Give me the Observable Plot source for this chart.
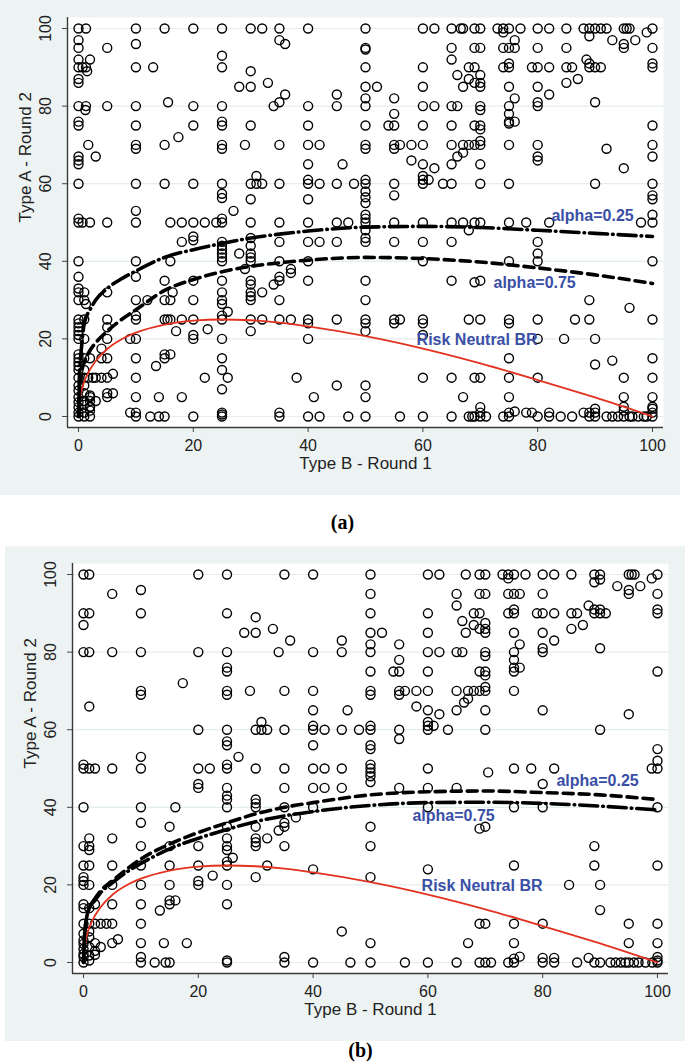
<!DOCTYPE html>
<html>
<head>
<meta charset="utf-8">
<script src="https://cdn.jsdelivr.net/npm/d3@7"></script>
<script src="https://cdn.jsdelivr.net/npm/@observablehq/plot@0.6"></script>
<style>
  body { margin: 0; background: #ffffff; }
  #root { position: relative; width: 685px; height: 1064px; background: #ffffff; overflow: hidden; }
  .panel { position: absolute; }
  .cap { position: absolute; width: 685px; text-align: center; font-family: "Liberation Serif", "Times New Roman", serif; font-weight: bold; font-size: 20px; line-height: 24px; color: #000; }
</style>
</head>
<body>
<div id="root">
  <div id="pa" class="panel" style="left:0px;top:0px"></div>
  <div class="cap" style="left:0px;top:510px">(a)</div>
  <div id="pb" class="panel" style="left:5px;top:546px"></div>
  <div class="cap" style="left:18px;top:1038px">(b)</div>
</div>
<script>
// ---------- data ----------
const axisTicks = [0, 20, 40, 60, 80, 100];
const xTitle = "Type B - Round 1";
const yTitle = "Type A - Round 2";

// best-response curves
const curveX        = [0, 0.1, 0.3, 0.6, 1, 2, 3, 5, 7.5, 10, 15, 20, 25, 30, 35, 40, 50, 60, 70, 80, 90, 100];
const riskNeutralY  = [0, 3.1, 5.2, 7.1, 9, 12.1, 14.3, 17.4, 19.9, 21.6, 23.7, 24.7, 25, 24.8, 24.2, 23.2, 20.7, 17.5, 13.7, 9.4, 4.9, 0];
const a_alpha25Y    = [0, 8, 14, 19, 24, 27.5, 30, 33, 35.5, 37.5, 41, 43, 44.6, 46, 47, 47.8, 48.8, 49, 48.7, 48, 47.2, 46.4];
const a_alpha75Y    = [0, 5, 9, 12, 14, 17, 19, 22, 25, 27.5, 32.5, 35.3, 37.3, 38.7, 39.6, 40.3, 41, 40.7, 39.8, 38.3, 36.5, 34.3];
const b_alpha25Y    = [0, 5, 9, 12, 14, 16.5, 18.5, 21, 24, 26.7, 30.5, 33.5, 36, 38.3, 40, 41.2, 43.2, 44, 44.2, 43.8, 43.2, 42];
const b_alpha75Y    = [0, 5, 9, 12, 14, 16, 18, 20.5, 23.3, 25.5, 29.3, 32, 34.3, 36.3, 37.8, 38.9, 40.5, 41.2, 41.3, 41, 40.3, 39.3];

// annotation labels [text, x, y]
const a_labels = [["alpha=0.25", 82.4, 51.8], ["alpha=0.75", 72.3, 34.5], ["Risk Neutral BR", 58.9, 19.8]];
const b_labels = [["alpha=0.25", 82.4, 46.9], ["alpha=0.75", 57.3, 37.9], ["Risk Neutral BR", 58.9, 19.8]];

// panel (a) observations [Type B round 1, Type A round 2]
const a_points = [
  [0,100],[1.3,100],[10,100],[15,100],[20,100],[25,100],[30,100],[32,100],[35,100],[40,100],
  [35,97],[36,96],[0,97],[0,95],[5,95],[10,96],[25,93],[2,92],[0,92],
  [0,90],[0.7,90],[1.3,90],[10,90],[13,90],[25,90],[1.5,89],[30,89],[0,87],[0,86],[33,86],[28,85],[30,85],[36,83],[45,83],
  [15.6,81],[35,81],[34,80],[0,80],[1.3,80],[5,80],[10,80],[20,80],[25,80],[40,80],[45,80],[1.2,79],
  [0,76],[25,76],[0,75],[10,75],[20,75],[25,75],[30,75],[40,75],[17.4,72],
  [1.7,70],[10,70],[15,70],[25,70],[29,70],[35,70],[40,70],[42,70],[10,69],[25,69],
  [0,67],[3,67],[0,66],[0,65],[40,65],[46,65],[31,62],
  [0,60],[10,60],[15,60],[20,60],[25,60],[30,60],[31,60],[32,60],[35,60],[40,60],[42,60],[45,60],[48,60],[40,61],
  [25,57.4],[25,56.3],[30,56],[40,56],[10,53],[27,53],[0,51],[25,51],
  [0,50],[0.7,50],[2,50],[5,50],[10,50],[16,50],[18,50],[20,50],[22,50],[24,50],[25,50],[30,50],[35,50],[40,50],[45,50],[47,50],
  [20,46.4],[20,45.4],[18,45],[25,45],[25,44],[25,43],[25,42],[25,41],[25,40],[28,42],
  [30,46],[30,44],[30,42],[30,41],[30,40],[35,45],[40,45],[42,45],[45,45],
  [0,40],[10,40],[16,40],[35,40],[40,40],[29,38],[37,38],[37,37],[35,36],[35,35],[34,34],
  [0,36],[10,36],[15,35],[20,35],[25,35],[30,35],[30,34],[40,35],
  [0,33],[1,32],[0,32],[5,32],[16.4,32],[25,32],[30,32],[32,32],[30,31],
  [0,30],[1,30],[10,30],[12,30],[15,30],[16,30],[20,30],[25,30],[30,30],[35,30],[25,29],[1.3,29],[26,27],[10,26],
  [0,25],[1,25],[5,25],[10,25],[15,25],[15.5,25],[16,25],[18,25],[20,25],[25,25],[30,25],[32,25],[35,25],[37,25],[40,25],[45,25],
  [0,24],[25,26],[40,24],[0,23],[5,23],[17,22],[22.5,22.5],[30,22],
  [0,22],[0,21],[0,20],[1,20],[5,20],[9,20],[10,20],[20,21],[20,20],[25,20],[40,20],[4,17.5],
  [0,16],[0,15],[0,14],[0,13],[0,12],[0,10],[0,8],[0,6.7],[0,5],[0,3.7],[0,2.4],[0,1],[0,0],
  [1,15],[2,15],[4,15],[5,15],[10,15],[13.5,13],[15,15],[16,16],[15,16],[25,15],
  [25,12],[22,10],[26,10],[38,10],[10,10],[1,10],[1.7,10],[2.5,10],[3,10],[4,10],[5,10],[6,11],
  [1,12],[1,8],[1,6],[1,4],[2,5.4],[2,4],[2,2.4],
  [25,7],[45,8],[5,6],[5,5],[6,6],[3,4],[2,5],[10,5],[14,5],[18,5],[41,5],
  [1,0],[2,0],[2,1.5],[2,2.5],[1,3],[1,1],[9,1],[10,1],[10,0],[12.5,0],[14,0],[15,0],[20,0],[25,1],[25,0],[25,0.5],[35,1],[35,0],[40,0],[42,0],[47,0],
  [50,100],[60,100],[62,100],[65,100],[66.6,100],[67,100],[69,100],[70,100],[73,100],[74,100],[75,100],[77,100],[80,100],[82,100],[85,100],
  [88,100],[89,100],[90,100],[91,100],[92,100],[95,100],[95.5,100],[96,100],[100,100],
  [74,99],[89,98],[76,97],[93,97],[97,97],[99,99],[95,96],[95,95],
  [50,95],[50,94.6],[65,95],[69,95],[70,95],[74,95],[75,95],[76,95],[80,95],[85,95],[100,95],[65,92],
  [50,90],[60,90],[68,90],[69,90],[74,90],[75,90],[79,90],[80,90],[82,90],[85,90],[86,90],[89,90],[90,90],[91,90],[100,90],
  [75,91],[88.5,92],[89,91],[100,91],[66,88],[68,87],[70,88],[69,86],[70,86],[70,85],[85,86],[87,87],
  [50,85],[52,85],[60,85],[67,85],[75,85],[80,85],[82,83],[76,82],[55,82],[50,82],
  [50,80],[60,80],[62,80],[65,80],[66,80],[70,80],[75,80],[80,80],[70,79],[55,78],[75,78],[80,81],[90,81],
  [50,75],[54,75],[55,75],[60,75],[65,75],[69,75],[70,75],[100,75],[70,74],[75,76],[75,75.5],[76,76],
  [50,70],[55,70],[56,70],[58,70],[60,70],[65,70],[67,70],[68,70],[69,70],[70,70],[75,70],[80,70],[100,70],
  [50,69],[55,69],[70,71],[80,67],[80,66],[67,68],[66,67],[92,69],[100,67],
  [58,66],[60,65],[62,64],[65,65],[70,65],[95,64],[60,62],[60,61],[61,61],
  [50,60],[55,60],[60,60],[63.5,60],[65,60],[70,60],[75,60],[90,60],[100,60],[50,61],
  [55,57],[50,58],[50,56.5],[50,55],[100,57],[100,56],[50,52],[100,52],[50,51],
  [50,50],[55,50],[60,50],[65,50],[67,50],[69,50],[70,50],[75,50],[78,50],[82,50],[98,50],[100,50],[50,48],[68,48],
  [50,45],[55,45],[60,45],[65,45],[80,45],[50,46],[80,42],[80,40],[60,40],[75,40],[100,40],
  [50,35],[65,35],[69,34.6],[70,35],[50,30],[89,30],[96,28],
  [50,25],[55,25],[56,25],[60,25],[68,25],[70,25],[75,25],[80,25],[86.5,25],[89,25],[100,25],
  [50,24],[50,22],[55,24],[60,24],[60,21],[75,24],[84.6,20],[90,20],[80,20],
  [75,15],[100,15],[93,14.4],[90,13.4],
  [60,10],[65,10],[69,10],[70,10],[75,10],[80,10],[95,10],[100,10],
  [50,8],[50,5],[67,5],[75,5],[95,5],[100,5],
  [50,0],[56,0],[60,0],[65,0],[68,0],[68.6,0],[69,0],[70,0],[71,0],[74,0],[75,0],[80,0],[82,0],[84,0],[86,0],[89,0],[90,0],
  [92,0],[93,0],[94,0],[95,0],[96,0],[96.5,0],[97.5,0],[98.5,0],[99,0],[100,0],
  [76,1.3],[78,1],[79,1],[82,1],[88,1],[89,1],[90,1],[70,2.4],[70,1],[75,1],[90,2],[95,2.5],[95,1.5],[100,2.5],[100,2],[100,1]
];

// panel (b) observations [Type B round 1, Type A round 2]
const b_points = [
  [0,100],[1,100],[20,100],[25,100],[35,100],[40,100],[5,95],[10,96],
  [0,90],[1,90],[10,90],[25,90],[0,87],[30,89],[28,85],[30,85],[33,86],[36,83],[45,83],
  [0,80],[1,80],[5,80],[10,80],[20,80],[25,80],[34,80],[40,80],[45,80],
  [25,76],[25,75],[17.3,72],[10,70],[25,70],[29,70],[35,70],[40,70],[10,69],[25,69],
  [1,66],[40,65],[46,65],[31,62],
  [20,60],[25,60],[30,60],[31,60],[32,60],[35,60],[40,60],[42,60],[45,60],[40,61],
  [25,57],[25,56],[40,56],[10,53],[27,53],[0,51],[25,51],
  [0,50],[1,50],[2,50],[5,50],[10,50],[20,50],[22,50],[25,50],[30,50],[35,50],[40,50],[42,50],[45,50],
  [20,46],[20,45],[25,45],[35,45],[40,45],[42,45],[45,45],[25,43],[30,42],
  [25,42],[25,40],[25,35],[25,32],[25,30],[25,29],[25,26],[25,25],[25,20],[25,15],[25,0.5],[25,0],
  [0,40],[0,30],[0,25],[0,22],[0,21],[0,20],[0,15],[0,14],[0,10],[0,7.4],[0,5.7],[0,4.8],[0,3.5],[0,2.2],[0,1.4],[0,0],
  [1,32],[1,30],[1,29],[1,25],[1,20],[1,14],[1,10],[1,8],[1,6.5],[1,4],[1,1.8],[1,0.5],
  [2,15],[2,10],[2,5],[2,3],[2,2],[3,10],[3,4],[4,10],
  [5,32],[5,25],[5,20],[5,15],[5,10],[5,5],[6,6],
  [10,40],[10,36],[10,30],[10,25],[10,20],[10,15],[10,10],[10,5],[10,1.4],[10,0],
  [12.4,0],[13.3,13.4],[14,5],[14.3,0],[15,0],
  [15,35],[15,30],[15,25],[15,20],[15,15],[15,16],[16,40],[16,16],[18,5],
  [20,30],[20,25],[20,21],[20,20],[22.5,22.4],[26,27],
  [30,41],[30,40],[30,35],[30,32],[30,31],[30,30],[30,22],[32,32],[32,25],[34,34],
  [35,40],[35,36],[35,35],[35,30],[35,1.4],[35,0],[37,37.4],[40,40],[40,24],[40,0],[45,8],[46.5,0],
  [50,100],[60,100],[62,100],[66.6,100],[69,100],[70,100],[73,100],[74,100],[75,100],[77,100],[80,100],[82,100],[85,100],
  [89,100],[90,100],[95,100],[95.5,100],[96,100],[100,100],
  [74,99],[90,98.7],[89,98],[99,99],[93,97],[97,97],[95,96],[95,95],
  [50,95],[65,95],[69,95],[70,95],[74,95],[75,95],[76,95],[80,95],[100,95],[65,92],
  [50,90],[60,90],[68,90],[69,90],[74,90],[75,90],[79,90],[80,90],[82,90],[85,90],[86,90],[89,90],[90,90],[91,90],[100,90],
  [75,91],[88,92],[89,91],[90,91],[100,91],[66,88],[68,87],[70,87.5],[69,86],[70,86],[70,85],[87,87],[85,86],
  [50,85],[52,85],[60,85],[66.6,85],[75,85],[80,85],[82,83],[76,82],[55,82],[50,82],
  [50,80],[60,80],[62,80],[65,80],[66,80],[70,80],[75,80],[80,80],[70,79],[55,78],[75,78],[80,81],[90,81],
  [50,75],[54,75],[55,75],[60,75],[69,75],[70,75],[100,75],[70,74],[75,76],[75,75],[76,76],
  [50,70],[55,70],[56,70],[58,70],[60,70],[65,70],[67,70],[68,70],[69,70],[70,70],[75,70],
  [50,69],[55,69],[70,71],[67,68],[66.3,67],[80,65],
  [58,66],[60,65],[62,64],[65,65],[70,65],[95,64],[60,62],[60,61],[61,61],
  [48,60],[50,60],[55,60],[60,60],[63.5,60],[70,60],[90,60],[50,61],
  [55,57.6],[50,56],[50,55],[100,55],[100,52],[99,50],[50,51],[50,50],
  [60,50],[75,50],[78,50],[82,50],[100,50],[50,49],[50,48],[70.5,49],
  [50,46.5],[55,45],[60,45],[65,45],[80,46],
  [60,40],[75,40],[80,40],[100,40],[50,35],[69,34.5],[70,35],[50,30],[89,30],
  [50,22],[60,24],[75,25],[89,25],[100,25],[84.6,20],[90,20],[90,13.5],
  [69,10],[70,10],[75,10],[80,10],[95,10],[100,10],
  [50,5],[67,5],[75,5],[95,5],[100,5],
  [50,0],[56,0],[60,0],[65,0],[69,0],[70,0],[71,0],[74,0],[75,0],[80,0],[82,0],[86,0],[89,0],[90,0],
  [91.8,0],[92.7,0],[93.6,0],[94.4,0],[95,0],[95.9,0],[96.7,0],[97.9,0],[99.1,0],[100,0],
  [75,1],[76,1.5],[80,1.2],[82,1.2],[88,1.2],[100,1.4],[100,0.5]
];

// ---------- drawing ----------
const BG = "#edf3f3";
const GRID = "#e4eded";
const BLUE = "#3a4fa6";
const RED = "#e2321f";
const DASHED = "10,6";
const DASHDOT = "18,5,0.6,5";

function curve(ys) { return curveX.map((x, i) => ({x, y: ys[i]})); }

function panel(points, upperY, upperDash, lowerY, lowerDash, labels) {
  const xmin = -1.92, xmax = 101.92, ymin = -2.84, ymax = 102.84;
  return Plot.plot({
    width: 680, height: 495,
    marginLeft: 67, marginRight: 17, marginTop: 17, marginBottom: 68,
    x: {domain: [xmin, xmax]},
    y: {domain: [ymin, ymax]},
    style: {background: BG, fontFamily: "'Liberation Sans', Arial, sans-serif", fontSize: "16px", color: "#222"},
    marks: [
      Plot.frame({fill: "#ffffff", stroke: null}),
      Plot.gridY(axisTicks, {stroke: GRID, strokeOpacity: 1, strokeWidth: 1.2}),
      Plot.axisX({ticks: axisTicks, tickSize: 5, tickPadding: 7, label: null, fontSize: 16, stroke: "#444"}),
      Plot.axisY({ticks: axisTicks, tickSize: 5, tickFormat: () => "", label: null, stroke: "#444"}),
      Plot.ruleX([xmin], {stroke: "#3a3a3a", strokeWidth: 1.4}),
      Plot.ruleY([ymin], {stroke: "#3a3a3a", strokeWidth: 1.4}),
      Plot.text(axisTicks, {frameAnchor: "left", y: d => d, text: d => String(d), rotate: -90, dx: -22,
        textAnchor: "middle", lineAnchor: "middle", fontSize: 16, fill: "#222"}),
      Plot.text([xTitle], {frameAnchor: "bottom", dy: 36, lineAnchor: "middle", fontSize: 17, fill: "#222"}),
      Plot.text([yTitle], {frameAnchor: "left", dx: -42, rotate: -90, lineAnchor: "middle", fontSize: 17, fill: "#222"}),
      Plot.dot(points, {x: d => d[0], y: d => d[1], r: 4.5, stroke: "#000", strokeWidth: 1.4, fill: "none"}),
      Plot.line(curve(riskNeutralY), {x: "x", y: "y", stroke: RED, strokeWidth: 1.8, curve: "monotone-x"}),
      Plot.line(curve(lowerY), {x: "x", y: "y", stroke: "#000", strokeWidth: 3.6, strokeDasharray: lowerDash, curve: "monotone-x"}),
      Plot.line(curve(upperY), {x: "x", y: "y", stroke: "#000", strokeWidth: 3.6, strokeDasharray: upperDash, curve: "monotone-x"}),
      Plot.text(labels, {x: d => d[1], y: d => d[2], text: d => d[0], textAnchor: "start", lineAnchor: "middle",
        fill: BLUE, fontWeight: "bold", fontSize: 16})
    ]
  });
}

document.getElementById("pa").append(panel(a_points, a_alpha25Y, DASHDOT, a_alpha75Y, DASHED, a_labels));
document.getElementById("pb").append(panel(b_points, b_alpha25Y, DASHED, b_alpha75Y, DASHDOT, b_labels));
</script>
</body>
</html>
